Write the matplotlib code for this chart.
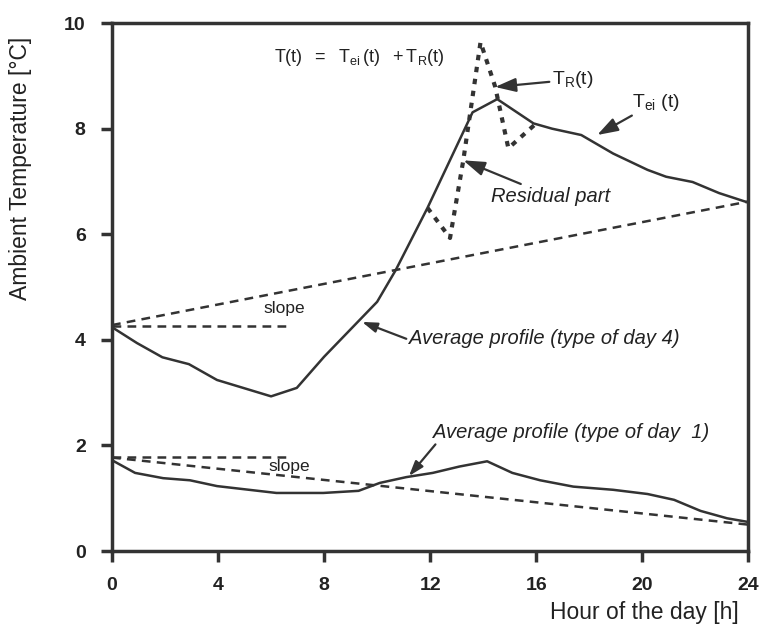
import matplotlib
matplotlib.use("Agg")
import matplotlib.pyplot as plt

plt.rcParams['font.family'] = ['Liberation Sans', 'DejaVu Sans']
plt.rcParams['mathtext.fontset'] = 'custom'
plt.rcParams['mathtext.rm'] = 'Liberation Sans'
plt.rcParams['mathtext.it'] = 'Liberation Sans:italic'
plt.rcParams['mathtext.default'] = 'regular'

INK = '#333333'
TXT = '#222222'

# Average profile, type of day 4 (T_ei)
hours_d4 = [0, 0.94, 1.9, 2.9, 3.96, 6.0, 6.97, 8.0, 10.0, 10.7, 11.9, 13.6, 14.53, 15.9, 16.6,
            17.7, 18.9, 20.2, 20.9, 21.9, 22.9, 24]
temp_d4 = [4.24, 3.94, 3.67, 3.54, 3.24, 2.93, 3.09, 3.68, 4.72, 5.32, 6.5, 8.31, 8.56, 8.1, 8.0,
           7.88, 7.53, 7.22, 7.09, 6.99, 6.78, 6.6]

# Residual part T_R (dotted)
hours_res = [11.9, 12.75, 13.25, 13.9, 14.45, 14.95, 16.0]
temp_res = [6.5, 5.93, 7.4, 9.64, 8.8, 7.63, 8.1]

# Average profile, type of day 1
hours_d1 = [0, 0.87, 1.93, 2.94, 3.96, 6.2, 7.97, 9.3, 10.1, 11.1, 12.1, 13.1, 14.15, 15.1, 16.15,
            17.4, 18.9, 20.2, 21.2, 22.2, 23.2, 24]
temp_d1 = [1.72, 1.48, 1.38, 1.34, 1.23, 1.1, 1.1, 1.14, 1.29, 1.4, 1.48, 1.6, 1.7, 1.48, 1.34,
           1.22, 1.16, 1.08, 0.97, 0.76, 0.62, 0.55]

# slope lines (start / end of day)
slope4_x = [0, 24]
slope4_y = [4.28, 6.62]
flat4_x = [0, 6.6]
flat4_y = [4.27, 4.27]
slope1_x = [0, 24]
slope1_y = [1.77, 0.5]
flat1_x = [0, 6.8]
flat1_y = [1.78, 1.78]

xticks = [0, 4, 8, 12, 16, 20, 24]
yticks = [0, 2, 4, 6, 8, 10]

fig = plt.figure(figsize=(7.62, 6.33), dpi=100)
ax = fig.add_axes([0.147, 0.1295, 0.835, 0.834])

ax.plot(hours_d4, temp_d4, color=INK, lw=1.8)
ax.plot(hours_d1, temp_d1, color=INK, lw=1.8)
ax.plot(hours_res, temp_res, color=INK, lw=3, linestyle=(0, (1.3, 1.6)))

dash = (0, (3.5, 2.5))
for xs, ys in [(slope4_x, slope4_y), (flat4_x, flat4_y), (slope1_x, slope1_y), (flat1_x, flat1_y)]:
    ax.plot(xs, ys, color=INK, lw=1.8, linestyle=dash)

ax.set_xlim(0, 24)
ax.set_ylim(0, 10)
ax.set_xticks(xticks)
ax.set_yticks(yticks)
ax.tick_params(direction='out', length=8, width=2.5, color=INK, labelsize=14, labelcolor=TXT, pad=11)
for lab in ax.get_xticklabels() + ax.get_yticklabels():
    lab.set_fontweight('bold')
for s in ax.spines.values():
    s.set_linewidth(2.5)
    s.set_color(INK)

ax.set_xlabel('Hour of the day [h]', fontsize=16.5, color=TXT)
ax.xaxis.set_label_coords(0.985, -0.095)
ax.xaxis.label.set_horizontalalignment('right')
ax.set_ylabel('Ambient Temperature [°C]', fontsize=16.5, color=TXT)
ax.yaxis.set_label_coords(-0.125, 0.725)

# texts
ax.text(6.1, 9.35, r'$T(t)\ \ =\ \ T_{ei}\,(t)\ \ +T_R(t)$', fontsize=13, va='center', color=TXT)
ax.text(6.5, 4.6, 'slope', fontsize=12.5, ha='center', va='center', color=TXT)
ax.text(6.7, 1.6, 'slope', fontsize=12.5, ha='center', va='center', color=TXT)

arrow = dict(arrowstyle='-|>,head_length=0.9,head_width=0.3', color=INK, lw=1.6, shrinkA=0, shrinkB=0)
ax.annotate(r'$T_R(t)$', xy=(14.45, 8.79), xytext=(16.6, 8.93), fontsize=14, va='center',
            color=TXT, arrowprops=arrow)
ax.annotate(r'$T_{ei}\ (t)$', xy=(18.3, 7.88), xytext=(19.6, 8.5), fontsize=14, va='center',
            color=TXT, arrowprops=arrow)
ax.annotate('Residual part', xy=(13.25, 7.4), xytext=(14.3, 6.72), fontsize=14.5, style='italic',
            va='center', color=TXT, arrowprops=arrow)
ax.annotate('', xy=(9.43, 4.34), xytext=(11.1, 4.02), arrowprops=arrow)
ax.text(11.2, 4.02, 'Average profile (type of day 4)', fontsize=14.5, style='italic',
        va='center', color=TXT)
ax.annotate('', xy=(11.2, 1.42), xytext=(12.2, 2.02), arrowprops=arrow)
ax.text(12.1, 2.25, 'Average profile (type of day  1)', fontsize=14.5, style='italic',
        va='center', color=TXT)

fig.savefig('out.png', dpi=100)
